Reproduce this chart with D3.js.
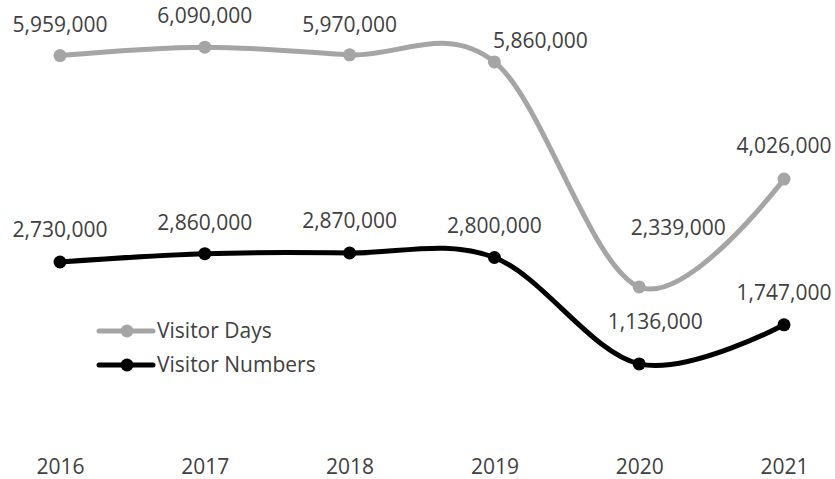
<!DOCTYPE html>
<html>
<head>
<meta charset="utf-8">
<script src="https://cdn.jsdelivr.net/npm/d3@7"></script>
<style>
  html, body { margin: 0; padding: 0; background: #fff; }
  svg { display: block; }
  text { font-family: "Open Sans", "Liberation Sans", sans-serif; fill: #404040; }
</style>
</head>
<body>
<svg id="chart" width="835" height="479"></svg>
<script>
// Yearly visitor figures
const years = ["2016", "2017", "2018", "2019", "2020", "2021"];
const visitorDays = [5959000, 6090000, 5970000, 5860000, 2339000, 4026000];
const visitorNumbers = [2730000, 2860000, 2870000, 2800000, 1136000, 1747000];
const seriesNames = ["Visitor Days", "Visitor Numbers"];
const seriesColors = ["#A5A5A5", "#000000"];

// Data label offsets from each point (dx, dy of the text baseline centre)
const daysLabelOffset = [[0, -24], [0, -24], [0, -23], [46, -14], [39, -52], [0, -26]];
const numbersLabelOffset = [[0, -25], [0, -24], [0, -25], [0, -25], [16, -35], [0, -25]];

const svg = d3.select("#chart");
const fmt = d3.format(",");

const x = d3.scalePoint().domain(years).range([60, 784]);
const y = d3.scaleLinear().domain([0, 7000000]).range([436.5, -11]);

const line = d3.line()
  .x(d => x(d.year))
  .y(d => y(d.value))
  .curve(d3.curveCardinal.tension(0));

const series = [
  { name: seriesNames[0], color: seriesColors[0], values: visitorDays, offsets: daysLabelOffset },
  { name: seriesNames[1], color: seriesColors[1], values: visitorNumbers, offsets: numbersLabelOffset }
];

// Category axis: labels only, no line or ticks
const xAxis = d3.axisBottom(x).tickSize(0).tickPadding(0);
const gx = svg.append("g").attr("transform", "translate(0,455)").call(xAxis);
gx.select(".domain").remove();
gx.selectAll("text")
  .attr("dy", 0)
  .attr("y", 19)
  .style("font-size", "21px")
  .style("font-family", "'Open Sans', 'Liberation Sans', sans-serif")
  .attr("fill", "#404040");

series.forEach(s => {
  const pts = years.map((yr, i) => ({ year: yr, value: s.values[i], off: s.offsets[i] }));
  const g = svg.append("g");
  g.append("path")
    .datum(pts)
    .attr("d", line)
    .attr("fill", "none")
    .attr("stroke", s.color)
    .attr("stroke-width", 5)
    .attr("stroke-linejoin", "round")
    .attr("stroke-linecap", "round");
  g.selectAll("circle")
    .data(pts)
    .join("circle")
    .attr("cx", d => x(d.year))
    .attr("cy", d => y(d.value))
    .attr("r", 6.5)
    .attr("fill", s.color);
  g.selectAll("text.lbl")
    .data(pts)
    .join("text")
    .attr("class", "lbl")
    .attr("x", d => x(d.year) + d.off[0])
    .attr("y", d => y(d.value) + d.off[1])
    .attr("text-anchor", "middle")
    .style("font-size", "21px")
    .text(d => fmt(d.value));
});

// Legend
const legend = svg.append("g");
series.forEach((s, i) => {
  const ly = 331 + i * 34;
  legend.append("line")
    .attr("x1", 99).attr("x2", 153)
    .attr("y1", ly).attr("y2", ly)
    .attr("stroke", s.color)
    .attr("stroke-width", 5)
    .attr("stroke-linecap", "round");
  legend.append("circle")
    .attr("cx", 127).attr("cy", ly).attr("r", 6.5)
    .attr("fill", s.color);
  legend.append("text")
    .attr("x", 157).attr("y", ly + 7)
    .style("font-size", "21px")
    .text(s.name);
});
</script>
</body>
</html>
